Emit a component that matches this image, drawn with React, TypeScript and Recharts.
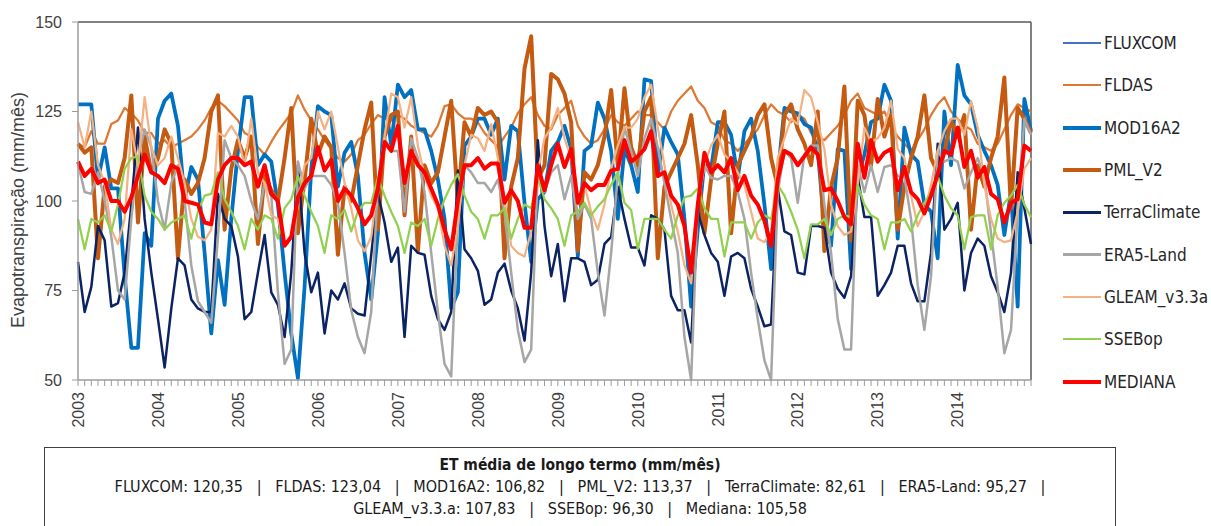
import React from "react";
import { LineChart, Line, XAxis, YAxis, ReferenceLine } from "recharts";

// ─── Data: monthly ET (mm/mês), Jan 2003 – Dec 2014 ──────────────────────────

const years = ["2003", "2004", "2005", "2006", "2007", "2008", "2009", "2010", "2011", "2012", "2013", "2014"];
const yTicks = [50, 75, 100, 125, 150];

const fldas = [
  116, 115, 119.5, 116, 116, 121.5, 122.5, 126, 124.5, 122.5, 119, 119,
  116, 117, 115, 116, 117, 118, 120, 122.5, 126, 128, 126.5, 124.5,
  122.5, 119, 118, 115, 113, 116.5, 119.5, 122, 124.5, 129.5, 125.5, 122.5,
  120, 117, 114.5, 112, 111, 113, 117, 118.5, 121.5, 124, 123, 122.5,
  124, 123, 121, 120, 119, 118, 121, 126.5, 127, 124.5, 123, 123,
  122, 119, 117, 115, 118, 120.5, 124.5, 127, 129, 124, 121, 120,
  124, 126, 128, 121, 118, 116, 117, 120, 124, 122, 121, 123,
  125, 124, 124, 122, 120, 125, 128, 130, 132, 128, 126, 122,
  121, 117, 116, 114, 116, 118, 120, 124, 127, 125, 124, 122,
  124, 123, 119, 118, 117, 119, 121, 124, 128, 130, 126, 125,
  124, 125, 121, 118, 116, 114, 117, 120, 124, 127, 129, 125,
  123, 121, 120, 116, 115, 114, 116, 120, 124, 127, 126, 125,
];

const mod16a2 = [
  127, 127, 127, 106, 115, 103.5, 103.5, 79, 59, 59, 91, 87.5,
  123, 128, 130, 121, 100.5, 109.5, 106, 85.5, 63, 83.5, 71, 95,
  114, 129, 129, 110, 113, 111, 99, 80, 63, 50.5, 76, 109,
  126.5, 125, 124, 104, 113.5, 116.5, 107, 85.5, 72.5, 91, 129, 115.5,
  132.5, 129, 131, 120, 120, 114, 106, 95, 70, 74.5, 115.5, 118,
  123, 123, 118.5, 123, 106, 121, 119.5, 99.5, 83, 100.5, 102.5, 114,
  116.5, 121, 114.5, 84.5, 114, 115.5, 127.5, 123, 114, 95, 114.5, 110,
  102.5, 134, 133.5, 107, 120.5, 116.5, 113, 95, 70.5, 92, 111, 109,
  122, 122, 118.5, 106.5, 119.5, 123, 114, 99, 81, 107, 126, 125,
  124.5, 121.5, 120.5, 114, 93, 87.5, 114.5, 114, 81, 106.5, 113, 122,
  123, 132.5, 128, 89.5, 120.5, 113, 111, 99, 97, 84, 125, 110,
  138, 129.5, 127, 118.5, 114, 110, 104.5, 90.5, 102.5, 70.5, 128.5, 119.5,
];

const pmlV2 = [
  116, 113.5, 115, 84, 104, 106, 105, 112, 129.5, 94, 118, 108,
  112, 120, 116, 84, 106, 102, 105, 112, 125, 129.5, 92, 109,
  117, 112, 118, 88, 107, 103, 100, 112, 126, 91, 106, 123,
  113, 118, 115, 85, 104, 100, 110, 120, 127.5, 92, 118, 124,
  125, 96, 118, 86, 110, 105, 108, 118, 128, 100, 122, 118,
  126, 124, 125, 122, 84, 104, 112, 137, 146, 106, 110, 135.5,
  134, 130, 122, 86, 108, 106, 110, 118, 131, 110, 131.5, 115,
  110, 125, 129, 84, 104, 108, 112, 116, 124, 110, 91, 106,
  116, 125, 91, 110, 114, 118, 124, 127, 112, 104, 124, 127,
  120, 116, 110, 125, 86, 104, 112, 132, 89, 128, 124, 110,
  128.5, 118, 124, 92, 104, 112, 118, 129.5, 112, 108, 113.5, 122.5,
  118, 124, 92, 110, 104, 112, 118, 134.5, 98, 126, 123, 119,
];

const terraClimate = [
  83, 69, 76, 93, 89, 70.5, 71.5, 80, 99, 120.5, 95, 80,
  67, 53.5, 70, 84, 82, 72.5, 70, 69, 69, 102, 95, 93,
  84.5, 67, 69, 80, 90.5, 74.5, 71, 62, 80, 110, 85.5, 74.5,
  80, 63, 75, 72.5, 77, 70, 68.5, 68, 85, 102, 94, 83,
  87, 62, 87.5, 85.5, 85, 73.5, 67, 64, 69, 108.5, 86.5, 84,
  80.5, 71, 72.5, 80, 82.5, 75, 70, 61, 80, 117, 93, 79,
  88, 72, 84, 84, 83, 76.5, 78, 88, 90, 104, 95, 87,
  87, 82, 96, 95, 92, 73.5, 69.5, 69.5, 60.5, 97, 90.5, 85.5,
  83, 73.5, 84.5, 85.5, 84, 75.5, 70.5, 65, 65.5, 103.5, 91.5, 90.5,
  80, 79.5, 93, 93, 92.5, 80, 75.5, 73, 79, 107, 95.5, 95.5,
  73.5, 76.5, 80, 87.5, 87.5, 77, 72, 72, 85.5, 116, 92, 95,
  99.5, 75, 85.5, 89.5, 87.5, 79, 74.5, 69, 80, 108, 98, 88,
];

const era5Land = [
  110.5, 102.5, 102, 108, 100, 90, 75, 72.5, 95, 112, 120, 115,
  100, 92, 105, 110, 100, 82, 72, 69, 66, 90, 117, 112,
  110, 107, 100, 95, 105, 101.5, 74.5, 54.5, 58.5, 111, 103.5, 107,
  107, 107, 104.5, 99.5, 85.5, 69.5, 62, 57.5, 69, 104.5, 117.5, 114,
  114, 97, 117.5, 112, 102.5, 85.5, 69, 54.5, 51, 95, 110, 108,
  105, 105, 102.5, 106, 97, 80, 64, 55, 58.5, 109, 102.5, 108,
  110, 100.5, 107, 95, 99, 95, 80, 68, 85.5, 107, 120.5, 114,
  107, 117.5, 123, 115, 105, 95, 85.5, 62, 50, 99, 110, 106.5,
  106, 107, 107, 102.5, 95, 80, 67, 55.5, 50, 102.5, 114, 112,
  99.5, 113, 115.5, 115.5, 99, 85.5, 67, 58.5, 58.5, 110, 102.5, 110,
  102.5, 109.5, 110, 107, 107, 95, 76.5, 64, 79, 114, 111, 112,
  111, 103.5, 108, 112, 107, 91, 76, 57.5, 64, 97, 123, 118.5,
];

const gleam = [
  122, 115, 125, 110, 105, 92, 88, 95, 120, 110, 129, 115,
  110, 112, 118, 112, 105, 95, 90, 89, 92, 119, 118, 121,
  118, 110, 123, 108, 105, 96, 95, 88, 90, 100, 110, 112,
  125, 120, 125, 115, 105, 98, 89, 86, 90, 105, 118, 130,
  129, 120.5, 129, 115.5, 107, 101.5, 98, 87.5, 82, 93, 110, 118.5,
  117.5, 114, 121.5, 112, 100.5, 87.5, 85.5, 84.5, 91.5, 108, 117.5, 120.5,
  126, 117.5, 112, 99, 104.5, 97, 92, 99, 109, 115.5, 120.5, 120.5,
  123, 129, 132.5, 120.5, 110, 99, 91.5, 82, 77, 99, 110, 115.5,
  118.5, 113, 111, 108, 104.5, 97, 89.5, 88.5, 91.5, 112, 117.5, 123,
  121.5, 131, 129, 122, 114.5, 99, 93, 90.5, 91.5, 104.5, 120.5, 116.5,
  117.5, 120.5, 128, 114.5, 112, 101.5, 93, 97, 104.5, 114, 119.5, 123,
  123, 118.5, 128, 120.5, 104.5, 95, 89.5, 88.5, 89, 97, 109, 112,
];

const ssebop = [
  95, 86.5, 95, 94, 96, 91.5, 99, 109, 112, 112.5, 101.5, 97,
  95, 92, 94, 95, 96, 89.5, 97, 101.5, 102, 108, 100.5, 97,
  93, 86.5, 95, 92, 96, 95, 89.5, 98, 100.5, 107, 101.5, 97,
  93, 85.5, 96, 95, 97.5, 91.5, 97, 99.5, 99.5, 106.5, 101.5, 97,
  93, 85.5, 94, 93, 95, 87.5, 95, 100.5, 104.5, 107.5, 101.5, 97,
  95, 89.5, 96, 96, 98, 89.5, 95, 99, 98, 106.5, 100.5, 98,
  95, 87.5, 96, 97, 99.5, 96, 98.5, 100.5, 104.5, 108, 99.5, 97.5,
  86.5, 95, 95, 95, 92, 89.5, 96, 101, 101.5, 103.5, 98, 95,
  95, 84.5, 94, 94, 94, 89.5, 94, 96, 95, 104.5, 101.5, 97,
  92, 84, 93.5, 93.5, 95, 90.5, 95, 96, 95.5, 104.5, 99, 96,
  95, 86.5, 94, 94, 95, 91.5, 96, 99.5, 102.5, 107, 101.5, 98,
  96, 86.5, 95.5, 96, 96, 86.5, 96, 99.5, 101.5, 104.5, 99, 95.5,
];

const mediana = [
  111, 107, 109, 105, 106, 100, 100, 97, 101, 107, 113, 108,
  107, 105, 110, 109, 100, 99.5, 99, 94, 93.5, 106, 110, 112,
  112, 110, 111, 104, 110, 102, 100, 87.5, 90, 101, 105, 107,
  115, 108.5, 111.5, 100, 103.5, 101.5, 98, 93.5, 96, 103.5, 116.5, 114,
  121, 105, 114, 110, 108, 103.5, 99, 92, 86.5, 100, 110, 110,
  112, 109, 110.5, 110.5, 99.5, 103, 100, 92.5, 92.5, 110, 103, 110,
  116, 109.5, 114.5, 99.5, 105, 103, 104.5, 104.5, 108.5, 109, 117, 111,
  112.5, 114.5, 119.5, 107, 108, 101.5, 99, 93, 80, 99, 113.5, 108,
  110, 108, 112, 103, 107, 101.5, 99, 94.5, 87.5, 106, 114, 113,
  110, 112.5, 115, 113, 103, 103.5, 100, 95.5, 93.5, 116, 106.5, 117,
  111, 113.5, 114.5, 103, 109.5, 102.5, 100.5, 96.5, 101.5, 107.5, 114, 113,
  120.5, 109.5, 114, 106.5, 109.5, 102, 100.5, 94, 99.5, 100.5, 115.5, 114,
];

// long-term means shown in the summary box
const meansLine1 = [
  "FLUXCOM: 120,35",
  "FLDAS: 123,04",
  "MOD16A2: 106,82",
  "PML_V2: 113,37",
  "TerraClimate: 82,61",
  "ERA5-Land: 95,27",
];
const meansLine2 = ["GLEAM_v3.3.a: 107,83", "SSEBop: 96,30", "Mediana: 105,58"];

// ─── Series styling ──────────────────────────────────────────────────────────

const series = [
  { key: "FLUXCOM", values: null as number[] | null, color: "#4472C4", width: 2 },
  { key: "FLDAS", values: fldas, color: "#DD7935", width: 2.25 },
  { key: "MOD16A2", values: mod16a2, color: "#0070C0", width: 3.75 },
  { key: "PML_V2", values: pmlV2, color: "#C55A11", width: 4 },
  { key: "TerraClimate", values: terraClimate, color: "#0C2363", width: 2.5 },
  { key: "ERA5-Land", values: era5Land, color: "#A6A6A6", width: 2.5 },
  { key: "GLEAM_v3.3a", values: gleam, color: "#F4B183", width: 2.25 },
  { key: "SSEBop", values: ssebop, color: "#92D050", width: 2.25 },
  { key: "MEDIANA", values: mediana, color: "#FF0000", width: 4 },
];

const data = mediana.map((_, i) => {
  const row: Record<string, number> = { idx: i };
  series.forEach((s) => {
    if (s.values) row[s.key] = s.values[i];
  });
  return row;
});

const monthTicks = data.map((d) => d.idx);

const AXIS_FONT = "'Liberation Sans', Arial, sans-serif";
const NARROW_FONT = "'Liberation Sans Narrow', 'Arial Narrow', 'DejaVu Sans Condensed', sans-serif";
const SEP = "\u00a0\u00a0\u00a0|\u00a0\u00a0\u00a0";

function YearTick(props: { x?: number; y?: number; payload?: { value: number } }) {
  const { x = 0, y = 0, payload } = props;
  if (!payload || payload.value % 12 !== 0) return null;
  return (
    <text
      x={x}
      y={y}
      transform={`rotate(-90, ${x}, ${y})`}
      textAnchor="end"
      dy="0.36em"
      fill="#404040"
      fontSize={16}
      fontFamily={AXIS_FONT}
    >
      {years[payload.value / 12]}
    </text>
  );
}

export default function App() {
  return (
    <div
      style={{
        position: "absolute",
        left: 0,
        top: 0,
        width: 1211,
        height: 526,
        background: "#fff",
        overflow: "hidden",
      }}
    >
      <LineChart
        width={1211}
        height={440}
        data={data}
        margin={{ top: 22, right: 180, bottom: 0, left: 18 }}
      >
        <XAxis
          dataKey="idx"
          type="number"
          domain={[0, 143]}
          ticks={monthTicks}
          interval={0}
          height={60}
          tick={<YearTick />}
          tickSize={6}
          tickMargin={6}
          axisLine={{ stroke: "#9C9C9C", strokeWidth: 1.5 }}
          tickLine={{ stroke: "#9C9C9C" }}
        />
        <YAxis
          domain={[50, 150]}
          ticks={yTicks}
          width={60}
          tickSize={6}
          tickMargin={10}
          tick={{ fill: "#404040", fontSize: 16, fontFamily: AXIS_FONT }}
          axisLine={{ stroke: "#9C9C9C", strokeWidth: 1.5 }}
          tickLine={{ stroke: "#9C9C9C" }}
        />
        <ReferenceLine y={150} stroke="#595959" strokeWidth={1.5} />
        <ReferenceLine x={143} stroke="#595959" strokeWidth={1.5} />
        {series
          .filter((s) => s.values)
          .map((s) => (
            <Line
              key={s.key}
              dataKey={s.key}
              type="linear"
              stroke={s.color}
              strokeWidth={s.width}
              strokeLinejoin="round"
              dot={false}
              activeDot={false}
              isAnimationActive={false}
            />
          ))}
      </LineChart>

      <svg style={{ position: "absolute", left: 0, top: 0 }} width={40} height={440}>
        <text
          x={18}
          y={210}
          transform="rotate(-90, 18, 210)"
          textAnchor="middle"
          dy="0.36em"
          fill="#404040"
          fontSize={18}
          fontFamily={AXIS_FONT}
        >
          Evapotranspiração (mm/mês)
        </text>
      </svg>

      <div style={{ position: "absolute", left: 1063, top: 22 }}>
        {series.map((s) => (
          <div
            key={s.key}
            style={{ display: "flex", alignItems: "center", height: 42.3, fontFamily: NARROW_FONT, fontSize: 17, color: "#262626" }}
          >
            <div style={{ width: 38, height: Math.round(s.width), background: s.color, marginRight: 3 }} />
            <span>{s.key}</span>
          </div>
        ))}
      </div>

      <div
        style={{
          position: "absolute",
          left: 44,
          top: 447,
          width: 1072,
          height: 100,
          border: "1px solid #404040",
          boxSizing: "border-box",
          textAlign: "center",
          fontFamily: NARROW_FONT,
          fontSize: 16,
          color: "#1a1a1a",
          paddingTop: 6,
          lineHeight: "22px",
          whiteSpace: "pre",
        }}
      >
        <div style={{ fontWeight: 700, fontSize: 15.5 }}>ET média de longo termo (mm/mês)</div>
        <div>{meansLine1.join(SEP) + SEP.trimEnd()}</div>
        <div>{meansLine2.join(SEP)}</div>
      </div>
    </div>
  );
}
